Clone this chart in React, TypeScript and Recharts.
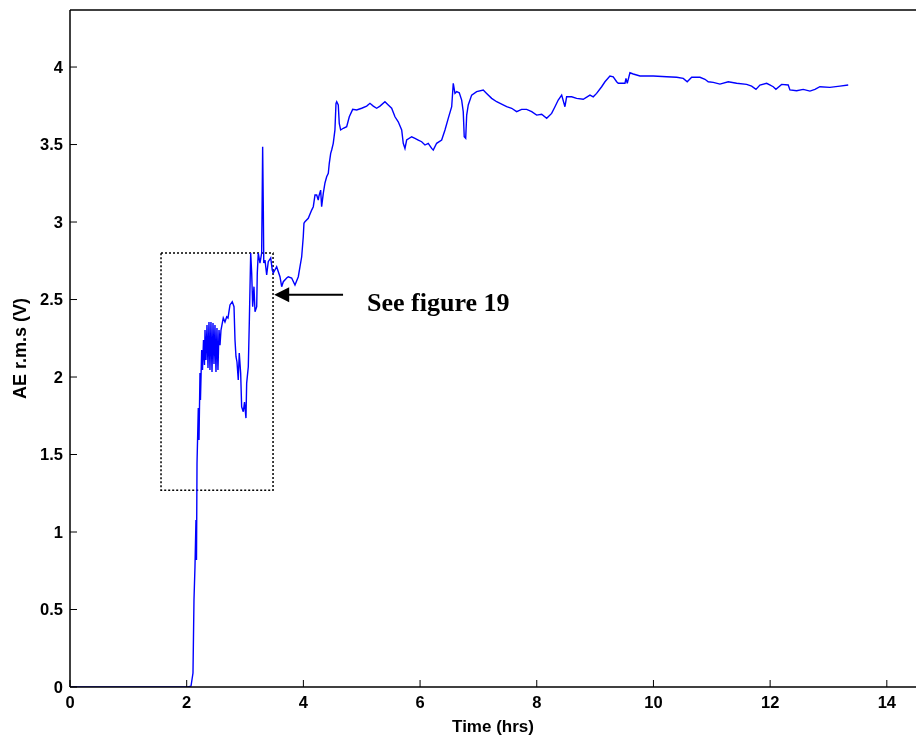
import React from 'react';
import { LineChart, Line, XAxis, YAxis, ReferenceArea, ReferenceLine } from 'recharts';

// Acoustic emission r.m.s. level over the test duration
const hours = [
  0, 2.022, 2.074, 2.108, 2.125, 2.142, 2.159, 2.168, 2.177, 2.199, 2.211, 2.228, 2.236, 2.257, 2.271,
  2.288, 2.305, 2.314, 2.331, 2.348, 2.365, 2.382, 2.399, 2.416, 2.434, 2.451, 2.468, 2.485, 2.502,
  2.519, 2.536, 2.554, 2.571, 2.588, 2.627, 2.656, 2.686, 2.708, 2.742, 2.781, 2.811, 2.828, 2.845,
  2.862, 2.884, 2.901, 2.925, 2.942, 2.970, 2.991, 3.016, 3.028, 3.056, 3.073, 3.097, 3.114, 3.131,
  3.142, 3.153, 3.171, 3.200, 3.210, 3.227, 3.256, 3.285, 3.302, 3.313, 3.321, 3.342, 3.371, 3.398,
  3.440, 3.467, 3.484, 3.542, 3.599, 3.628, 3.656, 3.714, 3.741, 3.799, 3.856, 3.913, 3.942, 3.971,
  3.998, 4.010, 4.027, 4.084, 4.142, 4.170, 4.199, 4.228, 4.255, 4.267, 4.296, 4.313, 4.341, 4.370,
  4.399, 4.427, 4.444, 4.468, 4.485, 4.512, 4.541, 4.559, 4.571, 4.598, 4.615, 4.639, 4.684, 4.742,
  4.787, 4.845, 4.913, 4.999, 5.085, 5.141, 5.198, 5.256, 5.313, 5.398, 5.455, 5.513, 5.570, 5.626,
  5.685, 5.712, 5.741, 5.770, 5.856, 5.913, 5.969, 6.027, 6.084, 6.140, 6.199, 6.226, 6.284, 6.370,
  6.427, 6.483, 6.542, 6.569, 6.598, 6.627, 6.672, 6.713, 6.740, 6.757, 6.782, 6.799, 6.826, 6.884,
  6.970, 7.083, 7.141, 7.227, 7.313, 7.398, 7.484, 7.570, 7.655, 7.741, 7.827, 7.913, 7.998, 8.084,
  8.170, 8.255, 8.312, 8.368, 8.427, 8.483, 8.512, 8.598, 8.684, 8.797, 8.912, 8.968, 9.026, 9.112,
  9.169, 9.254, 9.311, 9.369, 9.397, 9.512, 9.529, 9.551, 9.597, 9.654, 9.769, 9.997, 10.226, 10.398,
  10.511, 10.579, 10.655, 10.797, 10.883, 10.939, 11.025, 11.140, 11.282, 11.426, 11.597, 11.683,
  11.757, 11.825, 11.940, 12.053, 12.099, 12.197, 12.310, 12.339, 12.454, 12.567, 12.682, 12.768,
  12.853, 13.025, 13.196, 13.338,
];

const aeRms = [
  0, 0, 0.006, 0.090, 0.561, 0.774, 1.077, 0.819, 1.445, 1.800, 1.594, 2.026, 1.852, 2.174, 2.045,
  2.239, 2.077, 2.303, 2.110, 2.335, 2.058, 2.355, 2.045, 2.355, 2.032, 2.348, 2.084, 2.335, 2.032,
  2.316, 2.045, 2.303, 2.206, 2.303, 2.381, 2.355, 2.389, 2.381, 2.465, 2.486, 2.454, 2.239, 2.131,
  2.097, 1.981, 2.155, 2.026, 1.808, 1.776, 1.839, 1.735, 1.961, 2.066, 2.348, 2.800, 2.671, 2.454,
  2.518, 2.583, 2.421, 2.454, 2.671, 2.800, 2.735, 2.800, 3.486, 3.099, 2.735, 2.755, 2.658, 2.744,
  2.768, 2.690, 2.671, 2.712, 2.647, 2.583, 2.615, 2.639, 2.647, 2.639, 2.594, 2.647, 2.712, 2.776,
  2.905, 2.992, 3.002, 3.024, 3.077, 3.099, 3.174, 3.174, 3.142, 3.168, 3.206, 3.099, 3.185, 3.252,
  3.292, 3.314, 3.379, 3.443, 3.465, 3.508, 3.594, 3.766, 3.776, 3.755, 3.637, 3.594, 3.605, 3.615,
  3.679, 3.727, 3.723, 3.734, 3.748, 3.766, 3.748, 3.734, 3.748, 3.776, 3.755, 3.734, 3.679, 3.647,
  3.594, 3.508, 3.475, 3.529, 3.550, 3.540, 3.529, 3.518, 3.497, 3.508, 3.475, 3.465, 3.508, 3.529,
  3.594, 3.669, 3.744, 3.895, 3.830, 3.841, 3.834, 3.787, 3.712, 3.550, 3.540, 3.690, 3.755, 3.819,
  3.841, 3.852, 3.830, 3.798, 3.776, 3.761, 3.744, 3.734, 3.712, 3.727, 3.727, 3.712, 3.690, 3.695,
  3.669, 3.701, 3.744, 3.787, 3.819, 3.744, 3.808, 3.808, 3.798, 3.792, 3.819, 3.808, 3.830, 3.873,
  3.905, 3.942, 3.937, 3.905, 3.895, 3.895, 3.927, 3.895, 3.963, 3.955, 3.942, 3.942, 3.937, 3.934,
  3.927, 3.905, 3.934, 3.934, 3.921, 3.905, 3.901, 3.890, 3.905, 3.895, 3.888, 3.877,
  3.856, 3.884, 3.895, 3.873, 3.856, 3.888, 3.884, 3.852, 3.847, 3.856, 3.845, 3.856,
  3.873, 3.869, 3.877, 3.884,
];

const xTicks = [0, 2, 4, 6, 8, 10, 12, 14];
const yTicks = [0, 0.5, 1, 1.5, 2, 2.5, 3, 3.5, 4];

// dotted box around the early region and the pointer to it
const boxHours = [1.56, 3.48];
const boxLevels = [1.27, 2.8];
const pointerHours = [4.68, 3.5];
const pointerLevel = 2.53;
const pointerText = 'See figure 19';

const data = hours.map((t, i) => ({ t, v: aeRms[i] }));

const sans = '"Liberation Sans", Arial, Helvetica, sans-serif';
const serif = '"Liberation Serif", "Times New Roman", serif';

const PointerArrow = (props: any) => {
  const { x1, y1, x2, y2 } = props;
  const head = 15;
  const half = 7.5;
  return (
    <g>
      <line x1={x1} y1={y1} x2={x2 + head - 1} y2={y2} stroke="#000" strokeWidth={2} />
      <polygon
        points={`${x2},${y2} ${x2 + head},${y2 - half} ${x2 + head},${y2 + half}`}
        fill="#000"
      />
      <text
        x={x1 + 24}
        y={y1 + 16}
        fontFamily={serif}
        fontWeight="bold"
        fontSize={26}
        fill="#000"
      >
        {pointerText}
      </text>
    </g>
  );
};

export default function App() {
  const tickStyle = { fill: '#000', fontSize: 16.5, fontWeight: 'bold', fontFamily: sans };
  return (
    <div style={{ position: 'fixed', left: 8, top: 8, width: 908, height: 732, overflow: 'hidden' }}>
      <LineChart width={908} height={732} data={data} margin={{ top: 1, right: 0, bottom: 0, left: 0 }}>
        <XAxis
          xAxisId="x"
          dataKey="t"
          type="number"
          domain={[0, 14.5]}
          ticks={xTicks}
          interval={0}
          allowDataOverflow
          height={53}
          tickSize={-7}
          tickMargin={16}
          axisLine={{ stroke: '#000', strokeWidth: 1.5 }}
          tickLine={{ stroke: '#000', strokeWidth: 1 }}
          tick={tickStyle}
          label={{
            value: 'Time (hrs)',
            position: 'insideBottom',
            offset: 8,
            style: { fill: '#000', fontSize: 17, fontWeight: 'bold', fontFamily: sans },
          }}
        />
        <XAxis
          xAxisId="xt"
          orientation="top"
          type="number"
          domain={[0, 14.5]}
          ticks={xTicks}
          interval={0}
          allowDataOverflow
          height={1}
          tickSize={-7}
          tick={false}
          axisLine={{ stroke: '#000', strokeWidth: 1.5 }}
          tickLine={{ stroke: '#000', strokeWidth: 1 }}
        />
        <YAxis
          type="number"
          domain={[0, 4.368]}
          ticks={yTicks}
          interval={0}
          allowDataOverflow
          width={62}
          tickSize={-7}
          tickMargin={14}
          axisLine={{ stroke: '#000', strokeWidth: 1.5 }}
          tickLine={{ stroke: '#000', strokeWidth: 1 }}
          tick={tickStyle}
          label={{
            value: 'AE r.m.s (V)',
            angle: -90,
            position: 'insideLeft',
            offset: 12,
            style: { textAnchor: 'middle', fill: '#000', fontSize: 18, fontWeight: 'bold', fontFamily: sans },
          }}
        />
        <Line
          xAxisId="x"
          type="linear"
          dataKey="v"
          stroke="#0000ff"
          strokeWidth={1.4}
          dot={false}
          isAnimationActive={false}
        />
        <ReferenceArea
          xAxisId="x"
          x1={boxHours[0]}
          x2={boxHours[1]}
          y1={boxLevels[0]}
          y2={boxLevels[1]}
          fill="none"
          fillOpacity={0}
          stroke="#000"
          strokeWidth={1.5}
          strokeDasharray="2 2"
        />
        <ReferenceLine
          xAxisId="x"
          segment={[
            { x: pointerHours[0], y: pointerLevel },
            { x: pointerHours[1], y: pointerLevel },
          ]}
          shape={PointerArrow}
        />
      </LineChart>
    </div>
  );
}
